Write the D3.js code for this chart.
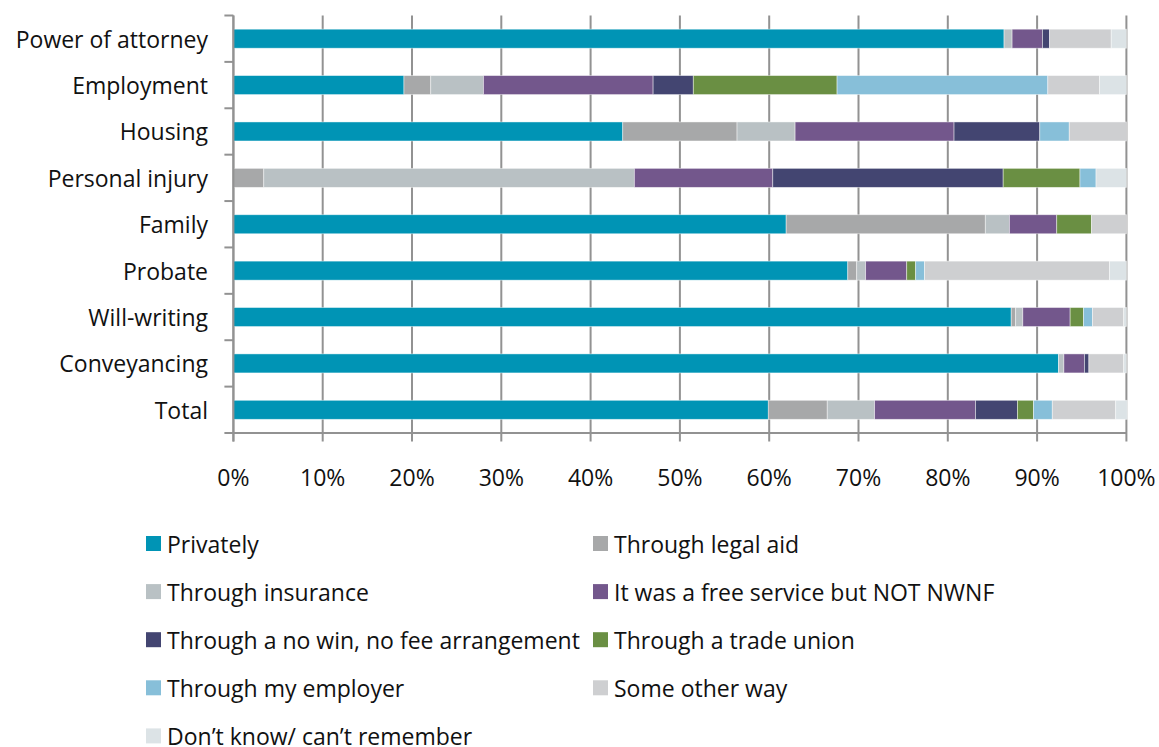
<!DOCTYPE html>
<html>
<head>
<meta charset="utf-8">
<script src="https://cdn.jsdelivr.net/npm/d3@7"></script>
<style>
  html, body { margin: 0; padding: 0; background: #ffffff; }
  svg { display: block; }
  text { font-family: "Open Sans", Lato, sans-serif; fill: #111; }
</style>
</head>
<body>
<svg id="chart" width="1159" height="747"></svg>
<script>
// Categories (top to bottom)
const categories = ["Power of attorney", "Employment", "Housing", "Personal injury",
  "Family", "Probate", "Will-writing", "Conveyancing", "Total"];

// Series names, in stacking order
const seriesNames = ["Privately", "Through legal aid", "Through insurance",
  "It was a free service but NOT NWNF", "Through a no win, no fee arrangement",
  "Through a trade union", "Through my employer", "Some other way",
  "Don\u2019t know/ can\u2019t remember"];

// Percentages for each series, one value per category
const privately    = [86.3, 19.1, 43.6,  0.0, 61.9, 68.8, 87.1, 92.4, 59.9];
const legalAid     = [ 0.0,  3.0, 12.8,  3.4, 22.3,  1.0,  0.5,  0.0,  6.6];
const insurance    = [ 0.9,  5.9,  6.5, 41.5,  2.7,  1.0,  0.8,  0.6,  5.3];
const freeService  = [ 3.4, 19.0, 17.8, 15.5,  5.3,  4.6,  5.3,  2.3, 11.3];
const noWinNoFee   = [ 0.8,  4.5,  9.6, 25.8,  0.0,  0.0,  0.0,  0.5,  4.7];
const tradeUnion   = [ 0.0, 16.1,  0.0,  8.6,  3.9,  1.0,  1.5,  0.0,  1.8];
const employer     = [ 0.0, 23.6,  3.3,  1.8,  0.0,  1.0,  1.0,  0.0,  2.1];
const otherWay     = [ 6.9,  5.8,  6.4,  0.0,  3.9, 20.7,  3.5,  3.9,  7.1];
const dontKnow     = [ 1.7,  3.0,  0.0,  3.4,  0.0,  1.9,  0.3,  0.3,  1.3];

const seriesValues = [privately, legalAid, insurance, freeService, noWinNoFee,
  tradeUnion, employer, otherWay, dontKnow];

const seriesColors = ["#0094b5", "#a7a8a9", "#b9c1c4", "#73578c", "#434571",
  "#6a8f43", "#87bfd9", "#cecfd1", "#dce3e6"];

// X tick values
const xTicks = [0, 10, 20, 30, 40, 50, 60, 70, 80, 90, 100];

// Build rows for the stack layout
const rows = categories.map((c, i) => {
  const r = { category: c };
  seriesNames.forEach((s, j) => { r[s] = seriesValues[j][i]; });
  return r;
});

const svg = d3.select("#chart");
const plotTop = 15.5, plotBottom = 433;
const fontSize = "23px";
const axisGrey = "#929292";

const x = d3.scaleLinear().domain([0, 100]).range([233.4, 1126.4]);
const y = d3.scaleBand().domain(categories).range([plotTop, plotBottom]).paddingInner(0.59).paddingOuter(0.295);
const color = d3.scaleOrdinal().domain(seriesNames).range(seriesColors);

const stacked = d3.stack().keys(seriesNames)(rows);

// Vertical gridlines, extending below the axis as tick marks
svg.append("g").selectAll("line").data(xTicks).join("line")
  .attr("x1", d => x(d)).attr("x2", d => x(d))
  .attr("y1", plotTop).attr("y2", 441.5)
  .attr("stroke", axisGrey).attr("stroke-width", 2);

// Stacked bars
svg.append("g").selectAll("g").data(stacked).join("g")
  .attr("fill", d => color(d.key))
  .selectAll("rect").data(d => d).join("rect")
    .attr("x", d => x(d[0]))
    .attr("width", d => Math.max(0, x(d[1]) - x(d[0])))
    .attr("y", d => y(d.data.category))
    .attr("height", y.bandwidth())
    .attr("stroke", "#ffffff").attr("stroke-opacity", 0.55).attr("stroke-width", 0.8);

// Bottom axis line
svg.append("line")
  .attr("x1", x(0)).attr("x2", x(100)).attr("y1", plotBottom).attr("y2", plotBottom)
  .attr("stroke", axisGrey).attr("stroke-width", 2);

// Left axis with ticks between categories
const step = y.step();
const boundaries = d3.range(categories.length + 1).map(i => plotTop + i * step);
svg.append("line")
  .attr("x1", x(0)).attr("x2", x(0)).attr("y1", plotTop).attr("y2", 441.5)
  .attr("stroke", axisGrey).attr("stroke-width", 2);
svg.append("g").selectAll("line").data(boundaries).join("line")
  .attr("x1", x(0) - 9).attr("x2", x(0))
  .attr("y1", d => d).attr("y2", d => d)
  .attr("stroke", axisGrey).attr("stroke-width", 2);

// Category labels
svg.append("g").selectAll("text").data(categories).join("text")
  .attr("x", 208)
  .attr("y", d => y(d) + y.bandwidth() / 2)
  .attr("text-anchor", "end")
  .attr("dominant-baseline", "central")
  .style("font-size", fontSize)
  .text(d => d);

// X tick labels
svg.append("g").selectAll("text").data(xTicks).join("text")
  .attr("x", d => x(d))
  .attr("y", 476.5)
  .attr("text-anchor", "middle")
  .attr("dominant-baseline", "central")
  .style("font-size", fontSize)
  .text(d => d + "%");

// Legend in two columns
const legendX = [146, 593];
const legendY0 = 543.5, legendStep = 48.1;
const legend = svg.append("g").selectAll("g").data(seriesNames).join("g")
  .attr("transform", (d, i) => `translate(${legendX[i % 2]},${legendY0 + Math.floor(i / 2) * legendStep})`);
legend.append("rect")
  .attr("x", 0).attr("y", -7.5).attr("width", 15).attr("height", 15)
  .attr("fill", d => color(d));
legend.append("text")
  .attr("x", 21).attr("y", 0)
  .attr("dominant-baseline", "central")
  .style("font-size", fontSize)
  .text(d => d);
</script>
</body>
</html>
